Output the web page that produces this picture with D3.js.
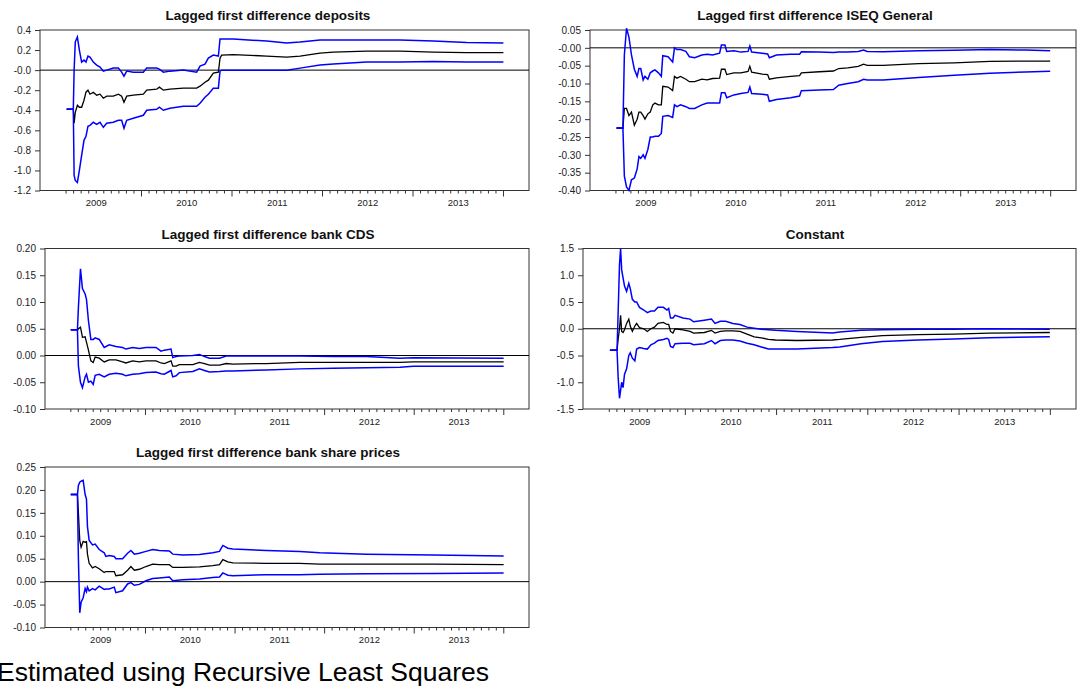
<!DOCTYPE html>
<html>
<head>
<meta charset="utf-8">
<script src="https://cdn.jsdelivr.net/npm/d3@7"></script>
<style>
  body { margin: 0; background: #fff; }
  svg { display: block; font-family: Arial, "Liberation Sans", Helvetica, sans-serif; }
</style>
</head>
<body>
<svg id="chart" width="1085" height="691"></svg>
<script>
// Recursive coefficient estimates (black) with +/- 2 S.E. bands (blue).
// Time is expressed in decimal years (weekly sample, Mar 2009 - Dec 2013).

const yearLabels = ["2009", "2010", "2011", "2012", "2013"];

// --- Lagged first difference deposits ---
const depositsTime = [2009.179,2009.252,2009.261,2009.274,2009.297,2009.319,2009.344,2009.370,2009.392,2009.414,
  2009.436,2009.473,2009.510,2009.547,2009.584,2009.621,2009.694,2009.750,2009.786,2009.812,
  2009.842,2009.915,2010.026,2010.063,2010.173,2010.203,2010.247,2010.320,2010.468,2010.615,
  2010.652,2010.707,2010.744,2010.799,2010.855,2010.873,2010.891,2011.020,2011.389,2011.610,
  2011.757,2011.978,2012.125,2012.494,2012.862,2013.230,2013.599,2014.004];
const depositsCoef = [-.39,-.39,-.53,-.42,-.35,-.37,-.37,-.30,-.22,-.20,
  -.24,-.22,-.25,-.24,-.28,-.26,-.26,-.24,-.26,-.32,
  -.26,-.25,-.24,-.20,-.19,-.17,-.20,-.19,-.18,-.18,
  -.16,-.12,-.10,-.03,-.02,.12,.15,.155,.14,.13,
  .14,.17,.18,.19,.19,.18,.175,.175];
const depositsUpper = [-.39,-.39,0.0,.28,.33,.20,.08,.10,.08,.14,
  .13,.08,.05,.03,-.01,0,.02,.02,-.02,-.06,
  -.01,-.02,-.02,.02,.02,.01,-.02,-.01,0,-.02,
  .04,.06,.12,.15,.14,.31,.31,.31,.29,.27,
  .28,.30,.30,.30,.30,.29,.275,.27];
const depositsLower = [-.39,-.39,-1.05,-1.10,-1.12,-1.0,-.85,-.70,-.66,-.56,
  -.55,-.52,-.54,-.52,-.57,-.53,-.52,-.50,-.50,-.58,
  -.50,-.48,-.45,-.40,-.39,-.37,-.40,-.38,-.36,-.36,
  -.33,-.27,-.24,-.18,-.18,-.01,0,0,0,0,
  .02,.05,.06,.08,.08,.085,.08,.08];
const depositsTicks = [0.4,0.2,0,-0.2,-0.4,-0.6,-0.8,-1.0,-1.2];
const depositsTickLabels = ["0.4","0.2","-0.0","-0.2","-0.4","-0.6","-0.8","-1.0","-1.2"];

// --- Lagged first difference ISEQ General ---
const iseqTime = [2009.179,2009.250,2009.266,2009.290,2009.317,2009.345,2009.377,2009.408,2009.428,2009.448,
  2009.475,2009.495,2009.527,2009.554,2009.582,2009.606,2009.645,2009.677,2009.693,2009.752,
  2009.803,2009.823,2009.851,2009.890,2009.950,2009.989,2010.048,2010.127,2010.187,2010.246,
  2010.325,2010.345,2010.384,2010.404,2010.483,2010.562,2010.641,2010.661,2010.681,2010.799,
  2010.859,2010.878,2010.957,2011.115,2011.214,2011.234,2011.432,2011.590,2011.649,2011.748,
  2011.866,2011.926,2011.965,2012.143,2012.538,2012.933,2013.329,2013.724,2014.000];
const iseqCoef = [-.225,-.225,-.17,-.17,-.19,-.18,-.217,-.20,-.18,-.18,
  -.19,-.20,-.185,-.18,-.16,-.155,-.16,-.16,-.108,-.11,
  -.12,-.08,-.085,-.08,-.088,-.095,-.095,-.088,-.09,-.086,
  -.085,-.06,-.06,-.075,-.07,-.07,-.066,-.052,-.068,-.074,
  -.075,-.088,-.084,-.08,-.078,-.07,-.067,-.065,-.058,-.056,
  -.052,-.046,-.049,-.049,-.044,-.042,-.038,-.037,-.037];
const iseqUpper = [-.225,-.225,-.02,.055,.03,-.02,-.06,-.08,-.058,-.058,
  -.09,-.08,-.088,-.07,-.065,-.062,-.07,-.08,-.022,-.025,
  -.04,0,-.005,-.005,-.01,-.025,-.028,-.02,-.018,-.02,
  -.015,.008,.008,-.01,-.008,-.012,-.01,.005,-.012,-.015,
  -.017,-.028,-.02,-.018,-.018,-.011,-.012,-.013,-.012,-.012,
  -.01,-.006,-.01,-.011,-.008,-.007,-.005,-.006,-.008];
const iseqLower = [-.225,-.225,-.36,-.39,-.40,-.37,-.365,-.34,-.305,-.31,
  -.30,-.31,-.285,-.25,-.25,-.248,-.248,-.24,-.192,-.19,
  -.195,-.16,-.165,-.16,-.165,-.17,-.17,-.16,-.155,-.155,
  -.155,-.126,-.126,-.14,-.132,-.128,-.125,-.11,-.128,-.13,
  -.132,-.15,-.145,-.14,-.135,-.12,-.118,-.117,-.105,-.1,
  -.095,-.088,-.09,-.09,-.083,-.077,-.071,-.068,-.066];
const iseqTicks = [0.05,0,-0.05,-0.10,-0.15,-0.20,-0.25,-0.30,-0.35,-0.40];
const iseqTickLabels = ["0.05","-0.00","-0.05","-0.10","-0.15","-0.20","-0.25","-0.30","-0.35","-0.40"];

// --- Lagged first difference bank CDS ---
const cdsTime = [2009.172,2009.246,2009.257,2009.280,2009.302,2009.332,2009.347,2009.369,2009.396,2009.422,
  2009.444,2009.489,2009.545,2009.601,2009.675,2009.713,2009.750,2009.787,2009.862,2009.937,
  2010.011,2010.123,2010.179,2010.216,2010.291,2010.310,2010.347,2010.384,2010.534,2010.608,
  2010.664,2010.720,2010.832,2010.907,2010.981,2011.354,2011.728,2012.101,2012.474,2012.847,
  2012.996,2014.004];
const cdsCoef = [.048,.048,.05,.053,.034,.035,.025,.01,-.01,-.013,
  -.003,-.005,-.012,-.008,-.008,-.01,-.012,-.014,-.01,-.012,
  -.01,-.01,-.014,-.015,-.01,-.02,-.02,-.017,-.017,-.013,
  -.015,-.018,-.018,-.015,-.016,-.015,-.013,-.013,-.013,-.013,
  -.012,-.012];
const cdsUpper = [.048,.048,.09,.162,.125,.115,.105,.065,.03,.03,
  .033,.03,.015,.02,.017,.016,.015,.012,.015,.013,
  .015,.015,.008,.01,.012,-.004,-.002,-.001,0,.002,
  -.002,-.005,-.005,-.001,-.001,-.001,-.001,-.002,-.002,-.005,
  -.004,-.005];
const cdsLower = [.048,.048,-.02,-.05,-.06,-.04,-.035,-.05,-.048,-.054,
  -.037,-.035,-.04,-.035,-.033,-.034,-.035,-.038,-.035,-.034,
  -.032,-.031,-.034,-.035,-.028,-.04,-.038,-.032,-.03,-.025,
  -.028,-.031,-.03,-.029,-.029,-.027,-.025,-.024,-.023,-.022,
  -.02,-.02];
const cdsTicks = [0.20,0.15,0.10,0.05,0,-0.05,-0.10];
const cdsTickLabels = ["0.20","0.15","0.10","0.05","0.00","-0.05","-0.10"];

// --- Constant ---
const constTime = [2009.179,2009.257,2009.269,2009.284,2009.296,2009.308,2009.323,2009.339,2009.362,2009.386,
  2009.402,2009.425,2009.452,2009.472,2009.503,2009.550,2009.589,2009.628,2009.667,2009.706,
  2009.765,2009.804,2009.823,2009.843,2009.870,2009.893,2009.979,2010.057,2010.096,2010.214,
  2010.292,2010.331,2010.389,2010.448,2010.526,2010.604,2010.682,2010.760,2010.838,2010.916,
  2010.994,2011.229,2011.619,2011.697,2011.931,2012.166,2012.556,2012.946,2013.337,2014.000];
const constCoef = [-.4,-.4,-.2,0,.25,-.05,-.07,-.02,.1,.18,
  .05,-.05,.05,.1,.02,0,-.05,0,.03,.1,
  .12,.08,.08,-.05,-.08,0,-.02,-.05,-.08,-.07,
  -.03,-.08,-.05,-.04,-.04,-.05,-.1,-.15,-.17,-.2,
  -.21,-.22,-.21,-.2,-.16,-.13,-.11,-.1,-.08,-.07];
const constUpper = [-.4,-.4,.3,1.2,1.5,1.1,.95,.8,.7,.85,
  .75,.55,.5,.5,.4,.35,.3,.33,.33,.4,
  .4,.35,.38,.2,.2,.25,.2,.18,.13,.16,
  .18,.1,.14,.14,.1,.08,.03,.01,-.01,-.02,
  -.03,-.05,-.08,-.06,-.03,-.02,-.01,-.01,0,-.01];
const constLower = [-.4,-.4,-.9,-1.3,-1.15,-1.0,-1.1,-.85,-.75,-.5,
  -.45,-.55,-.6,-.38,-.35,-.37,-.38,-.3,-.27,-.22,
  -.2,-.18,-.2,-.33,-.35,-.28,-.27,-.27,-.3,-.28,
  -.22,-.28,-.22,-.21,-.21,-.23,-.27,-.3,-.34,-.38,
  -.38,-.38,-.35,-.34,-.28,-.24,-.21,-.19,-.17,-.15];
const constTicks = [1.5,1.0,0.5,0,-0.5,-1.0,-1.5];
const constTickLabels = ["1.5","1.0","0.5","0.0","-0.5","-1.0","-1.5"];

// --- Lagged first difference bank share prices ---
const shareTime = [2009.172,2009.246,2009.257,2009.272,2009.287,2009.310,2009.332,2009.347,2009.358,2009.377,
  2009.414,2009.444,2009.489,2009.545,2009.563,2009.601,2009.657,2009.675,2009.750,2009.806,
  2009.843,2009.881,2009.937,2010.011,2010.086,2010.160,2010.272,2010.310,2010.422,2010.608,
  2010.757,2010.832,2010.869,2010.925,2010.981,2011.354,2011.728,2011.951,2012.474,2013.220,
  2014.004];
const shareCoef = [.19,.19,.15,.09,.075,.088,.086,.087,.06,.04,
  .03,.033,.028,.02,.022,.022,.022,.013,.015,.025,
  .033,.025,.027,.033,.038,.037,.037,.031,.031,.032,
  .035,.037,.048,.043,.041,.04,.04,.038,.038,.038,
  .037];
const shareUpper = [.19,.19,.21,.217,.219,.221,.19,.18,.12,.09,
  .08,.082,.07,.063,.055,.057,.055,.05,.05,.062,
  .068,.06,.062,.066,.07,.068,.067,.06,.058,.059,
  .063,.066,.079,.073,.071,.068,.066,.063,.06,.058,
  .056];
const shareLower = [.19,.19,.05,-.068,-.045,-.035,-.015,-.022,-.012,-.02,
  -.015,-.018,-.01,-.017,-.016,-.016,-.012,-.024,-.02,-.005,
  -.002,-.008,-.006,.002,.007,.008,.01,.002,.004,.006,
  .009,.01,.019,.014,.013,.015,.015,.016,.017,.018,
  .019];
const shareTicks = [0.25,0.20,0.15,0.10,0.05,0,-0.05,-0.10];
const shareTickLabels = ["0.25","0.20","0.15","0.10","0.05","0.00","-0.05","-0.10"];

const footnote = "Estimated using Recursive Least Squares";

// Panel layout
const panels = [
  { title: "Lagged first difference deposits", time: depositsTime, coef: depositsCoef, upper: depositsUpper, lower: depositsLower,
    ticks: depositsTicks, labels: depositsTickLabels, box: { l: 40, r: 529, t: 30, b: 190.5 }, titleX: 268 },
  { title: "Lagged first difference ISEQ General", time: iseqTime, coef: iseqCoef, upper: iseqUpper, lower: iseqLower,
    ticks: iseqTicks, labels: iseqTickLabels, box: { l: 590, r: 1076, t: 30, b: 190.5 }, titleX: 815 },
  { title: "Lagged first difference bank CDS", time: cdsTime, coef: cdsCoef, upper: cdsUpper, lower: cdsLower,
    ticks: cdsTicks, labels: cdsTickLabels, box: { l: 45, r: 529, t: 248.5, b: 409 }, titleX: 268 },
  { title: "Constant", time: constTime, coef: constCoef, upper: constUpper, lower: constLower,
    ticks: constTicks, labels: constTickLabels, box: { l: 583, r: 1076, t: 248.5, b: 409 }, titleX: 815 },
  { title: "Lagged first difference bank share prices", time: shareTime, coef: shareCoef, upper: shareUpper, lower: shareLower,
    ticks: shareTicks, labels: shareTickLabels, box: { l: 45, r: 529, t: 467, b: 627.5 }, titleX: 268 }
];

const svg = d3.select("#chart");
const xDomain = [2008.884, 2014.287];

// Monthly minor ticks from the first sample month, majors at each new year
const minorTicks = [];
for (let y = 2009; y <= 2013; y++) {
  for (let m = 0; m < 12; m++) {
    const t = y + m / 12;
    if (t >= 2009.16 && m !== 0) minorTicks.push(t);
  }
}
const majorTicks = [2010, 2011, 2012, 2013, 2014];
const labelTicks = yearLabels.map(s => +s + 0.5);

panels.forEach(p => {
  const { l, r, t, b } = p.box;
  const x = d3.scaleLinear().domain(xDomain).range([l, r]);
  const y = d3.scaleLinear().domain([p.ticks[p.ticks.length - 1], p.ticks[0]]).range([b, t]);
  const g = svg.append("g");

  // title
  g.append("text")
    .attr("x", p.titleX).attr("y", t - 10)
    .attr("text-anchor", "middle")
    .attr("font-size", "13.5px").attr("font-weight", "bold").attr("fill", "#111")
    .text(p.title);

  // y axis
  const yAxis = g.append("g").attr("transform", `translate(${l},0)`)
    .call(d3.axisLeft(y).tickValues(p.ticks).tickSize(5).tickPadding(4)
      .tickFormat((d, i) => p.labels[i]));
  yAxis.select(".domain").remove();
  yAxis.selectAll(".tick text").attr("font-size", "10px");

  // x axis: minor, major ticks and centred year labels
  const xa1 = g.append("g").attr("transform", `translate(0,${b})`)
    .call(d3.axisBottom(x).tickValues(minorTicks).tickSize(3).tickFormat(""));
  const xa2 = g.append("g").attr("transform", `translate(0,${b})`)
    .call(d3.axisBottom(x).tickValues(majorTicks).tickSize(6).tickFormat(""));
  const xa3 = g.append("g").attr("transform", `translate(0,${b})`)
    .call(d3.axisBottom(x).tickValues(labelTicks).tickSize(0).tickPadding(9)
      .tickFormat((d, i) => yearLabels[i]));
  [xa1, xa2, xa3].forEach(a => a.select(".domain").remove());
  xa3.selectAll(".tick text").attr("font-size", "9.5px");

  g.selectAll(".tick line").attr("stroke", "#333");
  g.selectAll(".tick text").attr("fill", "#222")
    .attr("font-family", "Arial, 'Liberation Sans', sans-serif");

  // frame
  g.append("rect")
    .attr("x", l).attr("y", t).attr("width", r - l).attr("height", b - t)
    .attr("fill", "none").attr("stroke", "#333").attr("stroke-width", 1);

  // zero line
  g.append("line")
    .attr("x1", l).attr("x2", r).attr("y1", y(0)).attr("y2", y(0))
    .attr("stroke", "#000").attr("stroke-width", 1);

  const line = vals => d3.line()
    .x((d, i) => x(p.time[i]))
    .y(d => y(d))(vals);

  g.append("path").attr("d", line(p.coef))
    .attr("fill", "none").attr("stroke", "#000").attr("stroke-width", 1.3);
  g.append("path").attr("d", line(p.upper))
    .attr("fill", "none").attr("stroke", "#0000ff").attr("stroke-width", 1.5);
  g.append("path").attr("d", line(p.lower))
    .attr("fill", "none").attr("stroke", "#0000ff").attr("stroke-width", 1.5);
});

svg.append("text")
  .attr("x", -3).attr("y", 681)
  .attr("font-size", "26.5px").attr("fill", "#000")
  .text(footnote);
</script>
</body>
</html>
